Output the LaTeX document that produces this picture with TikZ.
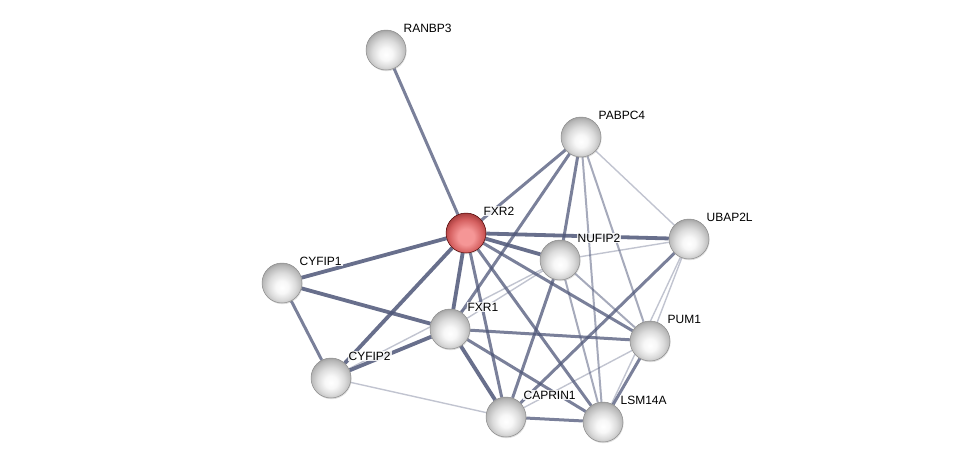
\documentclass[tikz,border=0pt]{standalone}
\usepackage{fontspec}
\setmainfont{Liberation Sans}
\usetikzlibrary{backgrounds,shadows}

\definecolor{edgec}{RGB}{78,86,120}
\definecolor{redlo}{RGB}{245,150,150}
\definecolor{redhi}{RGB}{212,95,95}
\definecolor{reddk}{RGB}{150,50,50}
% sphere look, lighter towards the bottom
\pgfdeclareradialshading{graysphere}{\pgfpoint{0bp}{-6bp}}{%
  color(0bp)=(white); color(8bp)=(white!97!black); color(17bp)=(white!86!black);
  color(25bp)=(white!72!black); color(31bp)=(white!55!black); color(50bp)=(white!55!black)}
\pgfdeclareradialshading{redsphere}{\pgfpoint{0bp}{-6bp}}{%
  color(0bp)=(redlo); color(10bp)=(redlo); color(21bp)=(redhi);
  color(30bp)=(reddk); color(50bp)=(reddk)}
\tikzset{
  prot/.style={circle,minimum size=40pt,inner sep=0pt,shading=graysphere,
    draw=black!45,line width=0.5pt,
    drop shadow={opacity=0.25,shadow xshift=0.6pt,shadow yshift=-1.2pt},
    label={[lbl]north east:#1}},
  query/.style={prot=#1,shading=redsphere,draw=red!30!black},
  lbl/.style={font=\fontsize{12}{14}\selectfont,fill=white,fill opacity=0.85,text opacity=1,
    inner sep=1pt,label distance=3pt},
  ehi/.style={draw=edgec,line width=3.8pt,opacity=0.85},
  emd/.style={draw=edgec,line width=3pt,opacity=0.75},
  elo/.style={draw=edgec,line width=2pt,opacity=0.5},
  evl/.style={draw=edgec,line width=1.4pt,opacity=0.35}
}

\begin{document}
\begin{tikzpicture}[x=1pt,y=-1pt]
  \useasboundingbox (0,0) rectangle (975,467);
  % proteins
  \node[prot=RANBP3]  (ranbp3)  at (386,50)  {};
  \node[prot=PABPC4]  (pabpc4)  at (581,137) {};
  \node[query=FXR2]   (fxr2)    at (466,233) {};
  \node[prot=UBAP2L]  (ubap2l)  at (689,239) {};
  \node[prot=NUFIP2]  (nufip2)  at (560,260) {};
  \node[prot=CYFIP1]  (cyfip1)  at (282,283) {};
  \node[prot=FXR1]    (fxr1)    at (450,329) {};
  \node[prot=PUM1]    (pum1)    at (650,341) {};
  \node[prot=CYFIP2]  (cyfip2)  at (331,378) {};
  \node[prot=CAPRIN1] (caprin1) at (506,417) {};
  \node[prot=LSM14A]  (lsm14a)  at (603,422) {};

  \begin{scope}[on background layer]
    % high confidence
    \foreach \a/\b in {fxr2/cyfip1,fxr2/cyfip2,fxr2/fxr1,cyfip1/fxr1,cyfip2/fxr1,
                       fxr2/nufip2,fxr2/ubap2l,fxr1/caprin1}
      \draw[ehi] (\a) -- (\b);
    % medium
    \foreach \a/\b in {fxr2/ranbp3,fxr2/pabpc4,fxr2/pum1,fxr2/caprin1,fxr2/lsm14a,
                       cyfip1/cyfip2,pabpc4/fxr1,pabpc4/nufip2,nufip2/caprin1,
                       ubap2l/caprin1,fxr1/pum1,fxr1/lsm14a,caprin1/lsm14a,pum1/lsm14a}
      \draw[emd] (\a) -- (\b);
    % low
    \foreach \a/\b in {nufip2/lsm14a,pabpc4/lsm14a,pabpc4/pum1,nufip2/pum1}
      \draw[elo] (\a) -- (\b);
    % very low
    \foreach \a/\b in {pabpc4/ubap2l,nufip2/ubap2l,nufip2/fxr1,cyfip2/nufip2,
                       cyfip2/caprin1,caprin1/pum1,ubap2l/pum1,ubap2l/lsm14a}
      \draw[evl] (\a) -- (\b);
  \end{scope}
\end{tikzpicture}
\end{document}
